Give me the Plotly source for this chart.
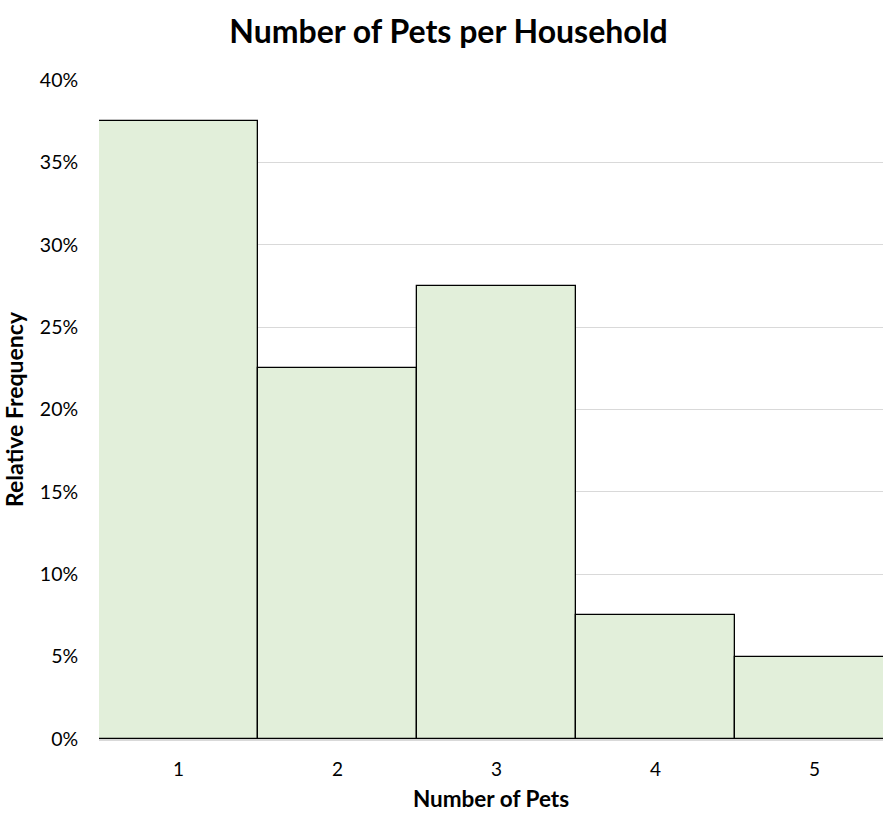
import plotly.graph_objects as go

pets = [1, 2, 3, 4, 5]
rel_freq = [0.375, 0.225, 0.275, 0.075, 0.05]
y_ticks = [0, 0.05, 0.10, 0.15, 0.20, 0.25, 0.30, 0.35, 0.40]
y_tick_labels = ["0%", "5%", "10%", "15%", "20%", "25%", "30%", "35%", "40%"]

FONT = "Lato"

fig = go.Figure(go.Bar(
    x=pets, y=rel_freq, width=1,
    marker=dict(color="#E2EFDA", line=dict(color="#000000", width=1.3)),
))

fig.update_layout(
    width=883, height=813,
    margin=dict(l=99, r=0, t=80, b=74),
    paper_bgcolor="white", plot_bgcolor="white",
    bargap=0,
    showlegend=False,
    title=dict(text="<b>Number of Pets per Household</b>", x=0.508, xanchor="center",
               y=0.961, yanchor="middle",
               font=dict(family=FONT, size=32, color="#000000")),
    font=dict(family=FONT, color="#000000"),
)
fig.update_xaxes(
    range=[0.5, 5.43], tickvals=pets, ticktext=[str(p) for p in pets],
    showgrid=False, zeroline=False,
    showline=True, linecolor="#D9D9D9", linewidth=2, layer="above traces",
    ticks="outside", ticklen=12, tickcolor="rgba(0,0,0,0)",
    tickfont=dict(size=19, color="#000000"),
    title=dict(text="<b>Number of Pets</b>", font=dict(size=22.5, color="#000000"), standoff=12),
)
fig.update_yaxes(
    range=[0, 0.4], tickvals=y_ticks, ticktext=y_tick_labels,
    showgrid=True, gridcolor="#D9D9D9", gridwidth=1,
    zeroline=False, showline=False,
    ticks="outside", ticklen=16, tickcolor="rgba(0,0,0,0)",
    tickfont=dict(size=19.5, color="#000000"),
    title=dict(text="<b>Relative Frequency</b>", font=dict(size=23, color="#000000"), standoff=10),
)

fig.write_html("out.html")
